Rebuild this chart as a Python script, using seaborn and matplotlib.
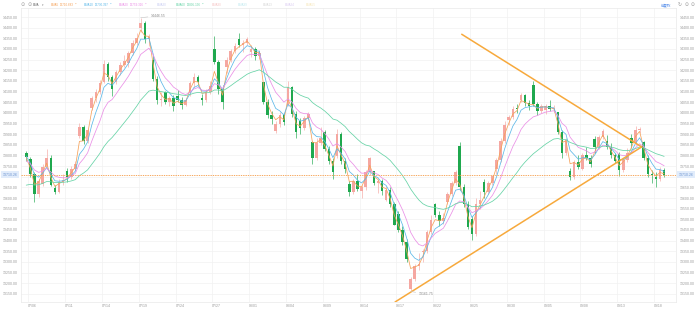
import numpy as np
import pandas as pd
import matplotlib
matplotlib.use("Agg")
import matplotlib.pyplot as plt
import seaborn as sns

# ---------------- data (3 bars per session, first bar = end of 07/05) ----------------
opens = [13812,
    13785, 13712, 13620,   13667, 13745, 13790,   13645, 13630, 13675,   13727, 13700, 13735,
    13890, 13935, 13870,   14021, 14070, 14100,   14147, 14230, 14170,   14143, 14190, 14225,
    14233, 14280, 14330,   14399, 14420, 14345,   14250, 14160, 14060,   14097, 14050, 14070,
    14080, 14060, 14035,   14091, 14140, 14170,   14068, 14060, 14100,   14302, 14240, 14110,
    14215, 14250, 14290,   14347, 14320, 14330,   14287, 14300, 14265,   14145, 14050, 13990,
    13917, 13950, 13990,   14035, 14120, 13995,   13960, 13930, 13975,   13863, 13790, 13860,
    13908, 13830, 13775,   13796, 13900, 13775,   13667, 13630, 13680,   13632, 13650, 13720,
    13725, 13670, 13680,   13593, 13640, 13570,   13525, 13450, 13395,   13175, 13220, 13280,
    13345, 13350, 13440,   13571, 13520, 13490,   13580, 13620, 13670,   13844, 13650, 13570,
    13502, 13430, 13570,   13676, 13630, 13670,   13735, 13780, 13870,   13967, 13980, 14020,
    14061, 14085, 14045,   14130, 14040, 14010,   14014, 14030, 14020,   14002, 13910, 13810,
    13726, 13700, 13770,   13738, 13800, 13790,   13879, 13840, 13885,   13870, 13840, 13800,
    13808, 13730, 13780,   13881, 13860, 13920,   13861, 13790, 13715,   13697, 13690, 13730]
highs = [13822,
    13795, 13720, 13690,   13760, 13829, 13800,   13660, 13690, 13714,   13740, 13750, 13772,
    13953, 13945, 13925,   14080, 14110, 14152,   14249, 14240, 14180,   14200, 14240, 14271,
    14290, 14340, 14374,   14446.55, 14430, 14370, 14270, 14175, 14100,  14102, 14080, 14085,
    14105, 14075, 14070,   14150, 14185, 14178,   14090, 14110, 14148,   14363, 14250, 14130,
    14260, 14300, 14330,   14374, 14340, 14355,   14320, 14310, 14295,   14146, 14065, 14010,
    13960, 14004, 14000,   14150, 14125, 14010,   13975, 13985, 14005,   13870, 13880, 13935,
    13918, 13845, 13790,   13923, 13910, 13790,   13680, 13690, 13715,   13660, 13730, 13791,
    13727, 13690, 13690,   13657, 13650, 13580,   13537, 13470, 13410,   13230, 13290, 13342,
    13360, 13450, 13522,   13578, 13540, 13530,   13630, 13680, 13730,   13863, 13665, 13585,
    13515, 13600, 13631,   13690, 13680, 13710,   13790, 13880, 13961,   13990, 14030, 14043,
    14094, 14090, 14060,   14149, 14050, 14040,   14040, 14062, 14035,   14006, 13920, 13880,
    13740, 13780, 13800,   13810, 13839, 13800,   13890, 13895, 13922,   13896, 13860, 13810,
    13815, 13790, 13835,   13900, 13939, 13935,   13870, 13800, 13730,   13720, 13744, 13740]
lows = [13775,
    13700, 13583, 13605,   13658, 13735, 13655,   13617, 13625, 13660,   13675, 13690, 13725,
    13880, 13852, 13860,   14013, 14050, 14090,   14140, 14150, 14077,   14135, 14180, 14215,
    14213, 14270, 14320,   14380, 14330, 14314,   14150, 14040, 14030,   14040, 14030, 14007,
    14050, 14016, 14030,   14081, 14120, 14130,   14037, 14050, 14090,   14230, 14090, 14016,
    14187, 14240, 14280,   14310, 14288, 14320,   14260, 14246, 14255,   14040, 13975, 13946,
    13906, 13935, 13945,   14030, 13980, 13880,   13903, 13920, 13965,   13759, 13780, 13850,
    13820, 13760, 13689,   13790, 13760, 13717,   13610, 13620, 13635,   13602, 13640, 13710,
    13660, 13625, 13612,   13585, 13560, 13474,   13440, 13380, 13299,   13161.75, 13210, 13260,
    13299, 13340, 13430,   13510, 13470, 13480,   13574, 13610, 13660,   13640, 13560, 13456,
    13402, 13420, 13550,   13600, 13620, 13660,   13715, 13770, 13860,   13945, 13970, 14000,
    14050, 14030, 14014,   14030, 13992, 14000,   13995, 14010, 14005,   13900, 13790, 13800,
    13686, 13690, 13735,   13734, 13780, 13745,   13812, 13830, 13875,   13830, 13790, 13764,
    13703, 13720, 13770,   13834, 13850, 13905,   13780, 13700, 13672,   13652, 13680, 13700]
closes = [13791,
    13712, 13620, 13679,   13745, 13790, 13660,   13630, 13675, 13685,   13700, 13735, 13760,
    13935, 13870, 13918,   14070, 14100, 14138,   14230, 14170, 14113,   14190, 14225, 14244,
    14280, 14330, 14353,   14420, 14345, 14358,   14160, 14060, 14063,   14050, 14070, 14032,
    14060, 14035, 14058,   14140, 14170, 14144,   14060, 14100, 14127,   14240, 14110, 14050,
    14250, 14290, 14316,   14320, 14330, 14346,   14300, 14265, 14283,   14050, 13990, 13973,
    13950, 13990, 13959,   14120, 13995, 13909,   13930, 13975, 13994,   13790, 13860, 13884,
    13830, 13775, 13722,   13900, 13775, 13738,   13630, 13680, 13644,   13650, 13720, 13788,
    13670, 13680, 13631,   13640, 13570, 13475,   13450, 13395, 13316,   13220, 13280, 13290,
    13350, 13440, 13497,   13520, 13490, 13505,   13620, 13670, 13721,   13650, 13570, 13463,
    13430, 13570, 13590,   13630, 13670, 13705,   13780, 13870, 13943,   13980, 14020, 14019,
    14085, 14045, 14034,   14040, 14010, 14031,   14030, 14020, 14021,   13910, 13810, 13872,
    13700, 13770, 13748,   13800, 13790, 13761,   13840, 13885, 13917,   13840, 13800, 13773,
    13730, 13780, 13813,   13860, 13920, 13926,   13790, 13715, 13708,   13690, 13730, 13710.26]

day_labels = ["07/06", "07/11", "07/14", "07/19", "07/24", "07/27", "08/01", "08/04", "08/09",
              "08/14", "08/17", "08/22", "08/25", "08/30", "09/05", "09/08", "09/13", "09/18"]
label_day_index = [0, 3, 6, 9, 12, 15, 18, 21, 24, 27, 30, 33, 36, 39, 42, 45, 48, 51]

ema_names = ["EMA5", "EMA10", "EMA20", "EMA60"]
ema_periods = [5, 10, 20, 60]          # hourly periods
ema_seed = [13790, 13800, 13770, 13650]  # values at the left edge of the chart
ema_header_values = [13710.683, 13730.397, 13759.316, 13805.136]
ema_colors = ["#f5a25a", "#5cb8e8", "#ea8fe6", "#66d3a6"]
faded_names = ["EMA30", "EMA90", "EMA99", "EMA13", "EMA34", "EMA55"]

# trend-line anchor points (bar index, price)
upper_x = [106.5, 150.5]
upper_y = [14369, 13840]
lower_x = [90.2, 150.5]
lower_y = [13112, 13840]

last_price = 13710.26
hourly_per_bar = 7 / 3

# ---------------- style ----------------
sns.set_style("white")
plt.rcParams["font.family"] = ["Liberation Sans", "DejaVu Sans"]

UP = "#f5a7a1"
DOWN = "#1fa84e"
GRID = "#f1f1f1"
TXT = "#9a9a9a"

W, H = 698, 310
fig = plt.figure(figsize=(W / 100, H / 100), dpi=100)
L, R, T, B = 20.7, 676.0, 8.0, 302.3
ax = fig.add_axes([L / W, 1 - B / H, (R - L) / W, (B - T) / H])

o = np.array(opens, float); h = np.array(highs, float)
l = np.array(lows, float); c = np.array(closes, float)
x = np.arange(len(c))
up = c >= o

# wicks and bodies
ax.vlines(x[up], l[up], h[up], color=UP, lw=0.45, zorder=2)
ax.vlines(x[~up], l[~up], h[~up], color=DOWN, lw=0.45, zorder=2)
ax.bar(x[up], np.maximum(c - o, 2)[up], bottom=o[up], width=0.62, color=UP, lw=0, zorder=3)
ax.bar(x[~up], np.maximum(o - c, 2)[~up], bottom=c[~up], width=0.62, color=DOWN, lw=0, zorder=3)

# EMA lines (periods expressed in this chart's bar length)
rows = []
for name, p, s in zip(ema_names, ema_periods, ema_seed):
    a = 2.0 / (p / hourly_per_bar + 1.0)
    e = s
    for i, v in enumerate(c):
        e = e + a * (v - e)
        rows.append((i, e, name))
ema_df = pd.DataFrame(rows, columns=["bar", "value", "line"])
sns.lineplot(data=ema_df, x="bar", y="value", hue="line", hue_order=ema_names,
             palette=dict(zip(ema_names, ema_colors)), lw=0.55, legend=False,
             ax=ax, zorder=4)

# trend lines
ax.plot(upper_x, upper_y, color="#f7a93c", lw=1.1, zorder=5, solid_capstyle="round")
ax.plot(lower_x, lower_y, color="#f7a93c", lw=1.1, zorder=5, solid_capstyle="round")

# last price line
ax.axhline(last_price, color="#f59a45", lw=0.6, ls=(0, (1.6, 1.2)), zorder=4)

# axes scales
ax.set_xlim(-1.36, 158.9)
ax.set_ylim(13110.5, 14492.3)
yt = np.arange(13150, 14451, 50)
ax.set_yticks(yt)
ax.set_yticklabels([f"{v:.2f}" for v in yt])
xt = [3 * d + 0.5 for d in label_day_index]
ax.set_xticks(xt)
ax.set_xticklabels(day_labels, ha="left")
ax.grid(True, color=GRID, lw=0.5)
ax.set_axisbelow(True)
ax.tick_params(axis="y", length=0, labelleft=True, labelright=True, labelsize=2.5,
               labelcolor=TXT, pad=2.4)
ax.tick_params(axis="x", length=0, labelsize=2.5, labelcolor=TXT, pad=1.2)
ax.set_xlabel(""); ax.set_ylabel("")
for s in ax.spines.values():
    s.set_color("#e9e9e9"); s.set_linewidth(0.5)

# last price tags
for xpos, ha in [(-0.0045, "right"), (1.0045, "left")]:
    ax.text(xpos, last_price, f"{last_price:.2f}", transform=ax.get_yaxis_transform(),
            ha=ha, va="center", fontsize=2.5, color="#6b93cf", clip_on=False, zorder=10,
            bbox=dict(boxstyle="square,pad=0.45", fc="#e1ecfb", ec="none"))

# high / low markers
hi_i = int(np.argmax(h)); lo_i = int(np.argmin(l))
ax.annotate(f"{h[hi_i]:.2f}", xy=(hi_i, h[hi_i]), xytext=(7.5, 1.5), textcoords="offset points",
            fontsize=2.5, color="#8a8a8a", ha="left", va="center",
            arrowprops=dict(arrowstyle="-", color="#c4c4c4", lw=0.4, shrinkA=0, shrinkB=0), zorder=6)
ax.annotate(f"{l[lo_i]:.2f}", xy=(lo_i, l[lo_i]), xytext=(6, -2.2), textcoords="offset points",
            fontsize=2.5, color="#8a8a8a", ha="left", va="center",
            arrowprops=dict(arrowstyle="-", color="#c4c4c4", lw=0.4, shrinkA=0, shrinkB=0), zorder=6)

# header
hy = 1 - 5 / H
def ft(px, s, color, size=2.2, **kw):
    fig.text(px / W, hy, s, color=color, fontsize=size, ha="left", va="center", **kw)

ft(20.5, "⊙", "#9a9a9a", size=3.6, family=["DejaVu Sans"])
ft(27.2, "⊙", "#9a9a9a", size=3.6, family=["DejaVu Sans"])
ft(33, "EMA", "#666666")
ft(41.5, "▾", "#888888", family=["DejaVu Sans"])
hx = [51, 84, 119, 176]
for name, val, col, px in zip(ema_names, ema_header_values, ema_colors, hx):
    ft(px, name, col)
    ft(px + 8.5 if len(name) == 4 else px + 10.5, f"{val:.3f}", col)
    ft(px + (23.5 if len(name) == 4 else 25.5), "•", col, family=["DejaVu Sans"])
faded_x = [157, 212, 238, 263, 285, 306]
faded_cols = ["#c9cdf2", "#f6c4c4", "#bfe9ef", "#d6d6d6", "#dccdf2", "#f6e6b8"]
for name, px, col in zip(faded_names, faded_x, faded_cols):
    ft(px, name, col)

fig.text(661 / W, hy, "前复权", color="#4a86e8", fontsize=2.5, ha="left", va="center",
         family=["Noto Sans CJK SC", "DejaVu Sans"])
ft(677.5, "↻", "#9a9a9a", size=3.4, family=["DejaVu Sans"])
ft(684.5, "⊙", "#9a9a9a", size=3.4, family=["DejaVu Sans"])
ft(690.5, "⊙", "#9a9a9a", size=3.4, family=["DejaVu Sans"])

fig.savefig("out.png", dpi=100)
